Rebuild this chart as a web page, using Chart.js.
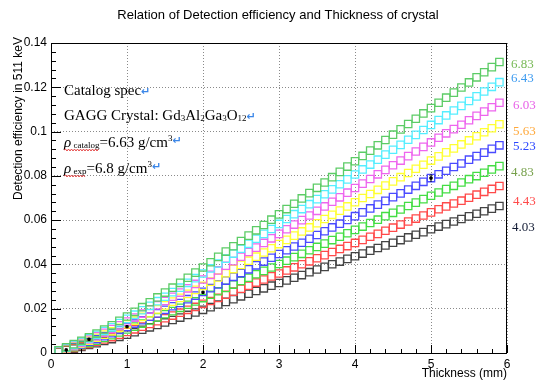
<!DOCTYPE html>
<html><head><meta charset="utf-8">
<script src="https://cdn.jsdelivr.net/npm/chart.js@4/dist/chart.umd.min.js"></script>
<style>html,body{margin:0;padding:0;background:#fff}</style>
</head><body>
<canvas id="c" width="541" height="381"></canvas>
<script>
// ---- data ----
const thickness = [0.1,0.2,0.3,0.4,0.5,0.6,0.7,0.8,0.9,1.0,1.1,1.2,1.3,1.4,1.5,1.6,1.7,1.8,1.9,2.0,
  2.1,2.2,2.3,2.4,2.5,2.6,2.7,2.8,2.9,3.0,3.1,3.2,3.3,3.4,3.5,3.6,3.7,3.8,3.9,4.0,
  4.1,4.2,4.3,4.4,4.5,4.6,4.7,4.8,4.9,5.0,5.1,5.2,5.3,5.4,5.5,5.6,5.7,5.8,5.9];
const eff683 = [0.0012,0.0026,0.0040,0.0055,0.0071,0.0088,0.0106,0.0125,0.0145,0.0165,0.0186,0.0207,0.0229,0.0251,0.0273,0.0295,0.0317,0.0340,0.0363,0.0386,
  0.0410,0.0434,0.0458,0.0482,0.0506,0.0530,0.0554,0.0578,0.0602,0.0626,0.0650,0.0674,0.0698,0.0722,0.0746,0.0770,0.0794,0.0818,0.0842,0.0866,
  0.0890,0.0914,0.0938,0.0962,0.0986,0.1010,0.1034,0.1058,0.1082,0.1106,0.1130,0.1153,0.1176,0.1199,0.1222,0.1245,0.1268,0.1291,0.1314];
const eff643 = [0.0011,0.0024,0.0037,0.0051,0.0066,0.0082,0.0099,0.0116,0.0135,0.0154,0.0173,0.0193,0.0213,0.0234,0.0254,0.0275,0.0295,0.0317,0.0338,0.0359,
  0.0382,0.0404,0.0426,0.0449,0.0471,0.0493,0.0516,0.0538,0.0560,0.0583,0.0605,0.0627,0.0650,0.0672,0.0695,0.0717,0.0739,0.0762,0.0784,0.0806,
  0.0829,0.0851,0.0873,0.0896,0.0918,0.0940,0.0963,0.0985,0.1007,0.1030,0.1052,0.1073,0.1095,0.1116,0.1138,0.1159,0.1181,0.1202,0.1223];
const eff603 = [0.0010,0.0022,0.0034,0.0047,0.0061,0.0076,0.0091,0.0108,0.0125,0.0142,0.0160,0.0178,0.0197,0.0216,0.0235,0.0254,0.0273,0.0292,0.0312,0.0332,
  0.0353,0.0373,0.0394,0.0415,0.0435,0.0456,0.0476,0.0497,0.0518,0.0538,0.0559,0.0580,0.0600,0.0621,0.0642,0.0662,0.0683,0.0703,0.0724,0.0745,
  0.0765,0.0786,0.0807,0.0827,0.0848,0.0869,0.0889,0.0910,0.0931,0.0951,0.0972,0.0992,0.1011,0.1031,0.1051,0.1071,0.1090,0.1110,0.1130];
const eff563 = [0.0009,0.0020,0.0031,0.0043,0.0056,0.0069,0.0083,0.0098,0.0114,0.0130,0.0146,0.0163,0.0180,0.0197,0.0215,0.0232,0.0249,0.0267,0.0285,0.0303,
  0.0322,0.0341,0.0360,0.0379,0.0398,0.0417,0.0435,0.0454,0.0473,0.0492,0.0511,0.0530,0.0549,0.0567,0.0586,0.0605,0.0624,0.0643,0.0662,0.0681,
  0.0700,0.0718,0.0737,0.0756,0.0775,0.0794,0.0813,0.0832,0.0850,0.0869,0.0888,0.0906,0.0924,0.0942,0.0960,0.0979,0.0997,0.1015,0.1033];
const eff523 = [0.0009,0.0019,0.0029,0.0039,0.0051,0.0063,0.0076,0.0089,0.0104,0.0118,0.0133,0.0148,0.0164,0.0179,0.0195,0.0211,0.0226,0.0243,0.0259,0.0276,
  0.0293,0.0310,0.0327,0.0344,0.0361,0.0378,0.0396,0.0413,0.0430,0.0447,0.0464,0.0481,0.0498,0.0516,0.0533,0.0550,0.0567,0.0584,0.0601,0.0618,
  0.0635,0.0653,0.0670,0.0687,0.0704,0.0721,0.0738,0.0755,0.0773,0.0790,0.0807,0.0823,0.0840,0.0856,0.0873,0.0889,0.0905,0.0922,0.0938];
const eff483 = [0.0008,0.0017,0.0026,0.0035,0.0046,0.0056,0.0068,0.0080,0.0093,0.0106,0.0119,0.0133,0.0147,0.0161,0.0175,0.0189,0.0204,0.0218,0.0233,0.0248,
  0.0263,0.0279,0.0294,0.0309,0.0325,0.0340,0.0356,0.0371,0.0386,0.0402,0.0417,0.0433,0.0448,0.0464,0.0479,0.0494,0.0510,0.0525,0.0541,0.0556,
  0.0571,0.0587,0.0602,0.0618,0.0633,0.0648,0.0664,0.0679,0.0695,0.0710,0.0725,0.0740,0.0755,0.0770,0.0785,0.0799,0.0814,0.0829,0.0844];
const eff443 = [0.0007,0.0015,0.0023,0.0032,0.0041,0.0051,0.0061,0.0072,0.0083,0.0095,0.0107,0.0119,0.0131,0.0144,0.0157,0.0169,0.0182,0.0195,0.0208,0.0222,
  0.0235,0.0249,0.0263,0.0277,0.0290,0.0304,0.0318,0.0332,0.0346,0.0359,0.0373,0.0387,0.0401,0.0414,0.0428,0.0442,0.0456,0.0470,0.0483,0.0497,
  0.0511,0.0525,0.0538,0.0552,0.0566,0.0580,0.0594,0.0607,0.0621,0.0635,0.0649,0.0662,0.0675,0.0688,0.0701,0.0715,0.0728,0.0741,0.0754];
const eff403 = [0.0006,0.0013,0.0020,0.0028,0.0036,0.0044,0.0054,0.0063,0.0073,0.0083,0.0094,0.0105,0.0116,0.0127,0.0138,0.0149,0.0160,0.0172,0.0183,0.0195,
  0.0207,0.0219,0.0231,0.0243,0.0256,0.0268,0.0280,0.0292,0.0304,0.0316,0.0328,0.0340,0.0352,0.0365,0.0377,0.0389,0.0401,0.0413,0.0425,0.0437,
  0.0449,0.0462,0.0474,0.0486,0.0498,0.0510,0.0522,0.0534,0.0546,0.0559,0.0571,0.0582,0.0594,0.0605,0.0617,0.0629,0.0640,0.0652,0.0664];
const densityLabels = ['6.83','6.43','6.03','5.63','5.23','4.83','4.43','4.03'];
const measuredX = [0.2,0.5,1,2,5];
const measuredY = [0.0014,0.0062,0.0119,0.0274,0.079];
const measuredErr = [0.0004,0.0004,0.0005,0.0006,0.0018];
const xTicks = [0,1,2,3,4,5,6];
const yTicks = [0,0.02,0.04,0.06,0.08,0.1,0.12,0.14];

// ---- styles ----
const series = [eff683,eff643,eff603,eff563,eff523,eff483,eff443,eff403];
const markerColors = ['#5ccc66','#55eeff','#ee66ee','#ffff33','#4a4aff','#44dd44','#ff4a4a','#444444'];
const labelColors  = ['#77b955','#3d9bf0','#e860e8','#ffa83a','#2b46ff','#76a04a','#ff4a4a','#111a33'];
const labelPos = [[511,68],[511,82],[513,109],[513,135],[513,150],[511,176],[513,205],[512,231]];

const datasets = [{
  label:'measured',
  data: measuredX.map((x,i)=>({x, y: measuredY[i]})),
  pointStyle:'rect', pointRadius:1.6, borderColor:'#000', backgroundColor:'#000', borderWidth:1
}];
series.forEach((s,i)=>datasets.push({
  label: densityLabels[i],
  data: thickness.map((x,j)=>({x, y: s[j]})),
  pointStyle:'rect', pointRadius:5.2, borderWidth:1.3,
  borderColor: markerColors[i], backgroundColor:'rgba(0,0,0,0)'
}));

const SERIF = "'Liberation Serif','Times New Roman',serif";
const SANS = "'Liberation Sans',Arial,Helvetica,sans-serif";

function runs(ctx, x, y, list){
  const pos = [];
  for (const r of list){
    ctx.font = r.f; ctx.fillStyle = r.c || '#000';
    const w = ctx.measureText(r.t).width;
    ctx.fillText(r.t, x, y + (r.dy||0));
    pos.push([x, x+w]);
    x += w;
  }
  return pos;
}
function wavy(ctx, x1, x2, y){
  ctx.save(); ctx.strokeStyle = '#e23a3a'; ctx.lineWidth = 0.9;
  ctx.beginPath(); ctx.moveTo(x1, y);
  let up = true;
  for (let x = x1 + 1.5; x <= x2; x += 1.5){ ctx.lineTo(x, y + (up ? -1 : 1)); up = !up; }
  ctx.stroke(); ctx.restore();
}

const deco = {
  id:'deco',
  afterDatasetsDraw(chart){
    const {ctx, chartArea:a, scales:{x:xs, y:ys}} = chart;
    ctx.save();
    // error bars of measured points
    ctx.strokeStyle = '#000'; ctx.lineWidth = 1;
    measuredX.forEach((x,i)=>{
      const px = xs.getPixelForValue(x);
      ctx.beginPath();
      ctx.moveTo(px, ys.getPixelForValue(measuredY[i]-measuredErr[i]));
      ctx.lineTo(px, ys.getPixelForValue(measuredY[i]+measuredErr[i]));
      ctx.stroke();
    });
    // frame
    ctx.strokeStyle = '#000'; ctx.lineWidth = 1;
    ctx.strokeRect(Math.round(a.left)+0.5, Math.round(a.top)+0.5, Math.round(a.right-a.left)-1, Math.round(a.bottom-a.top));
    // ticks
    ctx.beginPath();
    for (let k = 0; k <= 30; k++){
      const v = k*0.2; const px = Math.round(xs.getPixelForValue(v))+0.5;
      const len = (k % 5 === 0) ? 8 : 4;
      ctx.moveTo(px, a.bottom); ctx.lineTo(px, a.bottom - len);
    }
    for (let k = 0; k <= 35; k++){
      const v = k*0.004; const py = Math.round(ys.getPixelForValue(v))+0.5;
      const len = (k % 5 === 0) ? 10 : 5;
      ctx.moveTo(a.left, py); ctx.lineTo(a.left + len, py);
    }
    ctx.stroke();
    ctx.restore();
  },
  afterDraw(chart){
    const {ctx} = chart;
    ctx.save();
    ctx.textBaseline = 'alphabetic';
    // title
    ctx.font = '13px ' + SANS; ctx.fillStyle = '#000'; ctx.textAlign = 'center';
    ctx.fillText('Relation of Detection efficiency and Thickness of crystal', 278, 19);
    // x title
    ctx.font = '12px ' + SANS; ctx.textAlign = 'right';
    ctx.fillText('Thickness (mm)', 507, 377);
    // y title
    ctx.save(); ctx.translate(21.5, 37); ctx.rotate(-Math.PI/2);
    ctx.textAlign = 'right'; ctx.font = '12px ' + SANS;
    ctx.fillText('Detection efficiency in 511 keV', 0, 0);
    ctx.restore();
    // density labels
    ctx.textAlign = 'left';
    densityLabels.forEach((t,i)=>{
      ctx.font = '13px ' + SERIF; ctx.fillStyle = labelColors[i];
      ctx.fillText(t, labelPos[i][0], labelPos[i][1]);
    });
    // text block
    const big = '15px ' + SERIF, small = '9px ' + SERIF, ital = 'italic 15px ' + SERIF;
    const arrow = 'bold 11px "DejaVu Sans",sans-serif', AC = '#3a86e8';
    runs(ctx, 64, 95, [{t:'Catalog spec', f:big},{t:'\u21B5', f:arrow, c:AC}]);
    runs(ctx, 64, 120, [{t:'GAGG Crystal: Gd', f:big},{t:'3', f:small, dy:1},{t:'Al', f:big},{t:'2', f:small, dy:1},
      {t:'Ga', f:big},{t:'3', f:small, dy:1},{t:'O', f:big},{t:'12', f:small, dy:1},{t:'\u21B5', f:arrow, c:AC}]);
    let p = runs(ctx, 64, 147, [{t:'\u03C1', f:ital},{t:' catalog', f:small, dy:1},{t:'=6.63 g/cm', f:big},{t:'3', f:small, dy:-6},{t:'\u21B5', f:arrow, c:AC, dy:-3}]);
    wavy(ctx, 64, p[1][1], 150);
    p = runs(ctx, 64, 173, [{t:'\u03C1', f:ital},{t:' exp', f:small, dy:1},{t:'=6.8 g/cm', f:big},{t:'3', f:small, dy:-6},{t:'\u21B5', f:arrow, c:AC, dy:-3}]);
    wavy(ctx, 64, p[1][1], 176);
    ctx.restore();
  }
};

new Chart(document.getElementById('c'), {
  type:'scatter',
  data:{datasets},
  options:{
    responsive:false, animation:false, devicePixelRatio:1,
    layout:{padding:{left:0, right:34, top:43, bottom:0}},
    plugins:{legend:{display:false}, tooltip:{enabled:false}, title:{display:false}},
    scales:{
      x:{
        type:'linear', min:0, max:6,
        afterBuildTicks(s){ s.ticks = xTicks.map(v=>({value:v})); },
        afterFit(s){ s.height = 28; },
        grid:{color:'#8a8a8a', lineWidth:1, drawTicks:false},
        border:{display:false, dash:[1,2]},
        ticks:{font:{family:SANS, size:12}, color:'#000', padding:4, maxRotation:0, autoSkip:false,
          callback:v=>String(v)}
      },
      y:{
        type:'linear', min:0, max:0.14,
        afterBuildTicks(s){ s.ticks = yTicks.map(v=>({value:v})); },
        afterFit(s){ s.width = 51; },
        grid:{color:'#8a8a8a', lineWidth:1, drawTicks:false},
        border:{display:false, dash:[1,2]},
        ticks:{font:{family:SANS, size:12}, color:'#000', padding:4, autoSkip:false,
          callback:v=>String(Number(v.toFixed(2)))}
      }
    }
  },
  plugins:[deco]
});
</script>
</body></html>
